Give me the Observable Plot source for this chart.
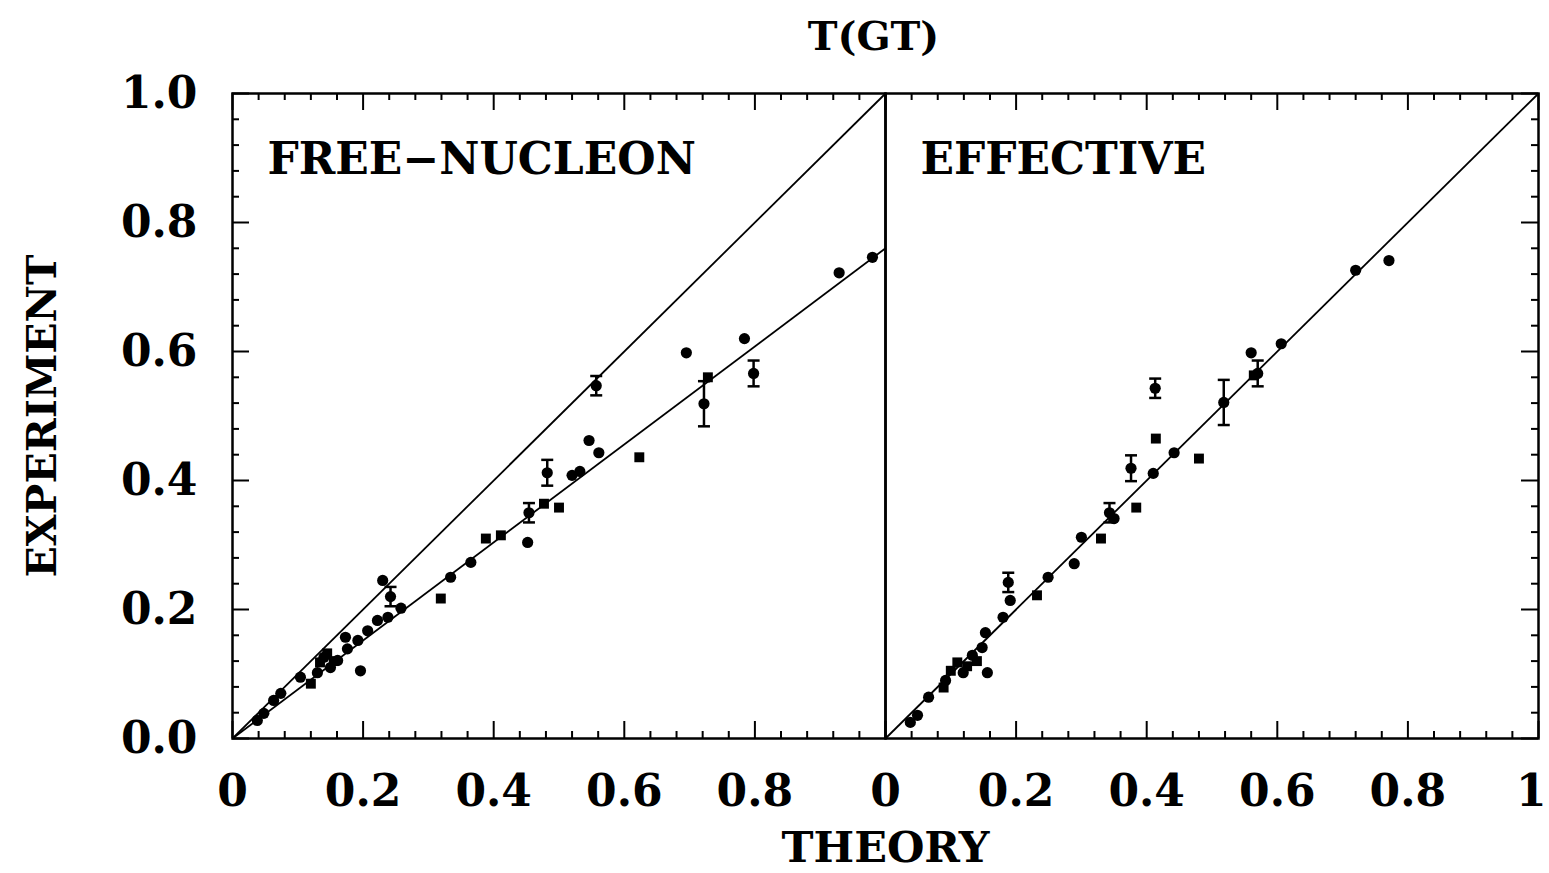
<!DOCTYPE html>
<html>
<head>
<meta charset="utf-8">
<script src="https://cdn.jsdelivr.net/npm/d3@7"></script>
<script src="https://cdn.jsdelivr.net/npm/@observablehq/plot@0.6"></script>
<style>
  html, body { margin: 0; padding: 0; background: #fff; }
  #chart svg { display: block; }
</style>
</head>
<body>
<div id="chart"></div>
<script>
// ---------- data ----------
const panels = ["FREE-NUCLEON", "EFFECTIVE"];
const panelLabels = ["FREE\u2212NUCLEON", "EFFECTIVE"];
const chartTitle = "T(GT)";
const xLabel = "THEORY";
const yLabel = "EXPERIMENT";

// FREE-NUCLEON panel
const freeTheory = [0.038, 0.048, 0.063, 0.074, 0.104, 0.120, 0.130, 0.134, 0.140, 0.145, 0.150, 0.155, 0.161, 0.173, 0.176, 0.192, 0.196, 0.207, 0.222, 0.230, 0.238, 0.242, 0.258, 0.319, 0.334, 0.365, 0.388, 0.411, 0.452, 0.454, 0.477, 0.482, 0.500, 0.520, 0.532, 0.546, 0.557, 0.561, 0.623, 0.695, 0.722, 0.728, 0.784, 0.798, 0.929, 0.980];
const freeExp    = [0.028, 0.039, 0.059, 0.070, 0.095, 0.085, 0.102, 0.118, 0.126, 0.132, 0.110, 0.120, 0.121, 0.157, 0.139, 0.152, 0.105, 0.167, 0.183, 0.245, 0.188, 0.220, 0.202, 0.217, 0.250, 0.273, 0.310, 0.315, 0.304, 0.350, 0.364, 0.412, 0.358, 0.408, 0.414, 0.462, 0.547, 0.443, 0.436, 0.598, 0.519, 0.560, 0.620, 0.566, 0.722, 0.746];
const freeErr    = [0, 0, 0, 0, 0, 0, 0, 0, 0, 0, 0, 0, 0, 0, 0, 0, 0, 0, 0, 0, 0, 0.015, 0, 0, 0, 0, 0, 0, 0, 0.015, 0, 0.02, 0, 0, 0, 0, 0.015, 0, 0, 0, 0.035, 0, 0, 0.02, 0, 0];
const freeShape  = ["c","c","c","c","c","s","c","s","c","s","c","s","c","c","c","c","c","c","c","c","c","c","c","s","c","c","s","s","c","c","s","c","s","c","c","c","c","c","s","c","c","s","c","c","c","c"];

// EFFECTIVE panel
const effTheory = [0.038, 0.049, 0.066, 0.089, 0.092, 0.100, 0.110, 0.119, 0.125, 0.133, 0.140, 0.148, 0.153, 0.156, 0.180, 0.188, 0.191, 0.232, 0.249, 0.289, 0.300, 0.330, 0.343, 0.350, 0.376, 0.384, 0.410, 0.413, 0.414, 0.442, 0.480, 0.518, 0.560, 0.564, 0.570, 0.606, 0.720, 0.771];
const effExp    = [0.025, 0.036, 0.064, 0.079, 0.090, 0.105, 0.118, 0.102, 0.112, 0.129, 0.120, 0.141, 0.164, 0.102, 0.188, 0.242, 0.214, 0.222, 0.250, 0.271, 0.312, 0.310, 0.350, 0.341, 0.419, 0.358, 0.411, 0.543, 0.465, 0.443, 0.434, 0.521, 0.598, 0.563, 0.566, 0.612, 0.726, 0.741];
const effErr    = [0, 0, 0, 0, 0, 0, 0, 0, 0, 0, 0, 0, 0, 0, 0, 0.015, 0, 0, 0, 0, 0, 0, 0.015, 0, 0.02, 0, 0, 0.015, 0, 0, 0, 0.035, 0, 0, 0.02, 0, 0, 0];
const effShape  = ["c","c","c","s","c","s","s","c","s","c","s","c","c","c","c","c","c","s","c","c","c","s","c","c","c","s","c","c","s","c","s","c","c","s","c","c","c","c"];

// reference lines: experiment = slope * theory
const fitPanels = ["FREE-NUCLEON", "FREE-NUCLEON", "EFFECTIVE"];
const fitSlopes = [1, 0.76, 1];

// axis ticks
const yTickValues = [0, 0.2, 0.4, 0.6, 0.8, 1.0];
const yTickLabels = ["0.0", "0.2", "0.4", "0.6", "0.8", "1.0"];
const xTickValuesFree = [0, 0.2, 0.4, 0.6, 0.8];
const xTickLabelsFree = ["0", "0.2", "0.4", "0.6", "0.8"];
const xTickValuesEff = [0, 0.2, 0.4, 0.6, 0.8, 1];
const xTickLabelsEff = ["0", "0.2", "0.4", "0.6", "0.8", "1"];

// ---------- build tables ----------
const points = [
  ...freeTheory.map((t, i) => ({panel: panels[0], theory: t, exp: freeExp[i], err: freeErr[i], shape: freeShape[i]})),
  ...effTheory.map((t, i) => ({panel: panels[1], theory: t, exp: effExp[i], err: effErr[i], shape: effShape[i]}))
];
const errPoints = points.filter(d => d.err > 0);
const fits = fitPanels.map((p, i) => ({panel: p, slope: fitSlopes[i]}));

const minorStep = 0.04;
const allTicks = d3.range(0, 1 + 1e-9, minorStep).map(v => +v.toFixed(2));
const isMajor = v => Math.abs(v * 5 - Math.round(v * 5)) < 1e-6;
const majorTicks = allTicks.filter(isMajor);
const minorTicks = allTicks.filter(v => !isMajor(v));
const tickRows = (vals) => panels.flatMap(p => vals.map(v => ({panel: p, v})));

const xTickRows = [
  ...xTickValuesFree.map((v, i) => ({panel: panels[0], v, label: xTickLabelsFree[i]})),
  ...xTickValuesEff.map((v, i) => ({panel: panels[1], v, label: xTickLabelsEff[i]}))
];
const xTickInner = xTickRows.filter(d => d.v < 1);
const xTickEnd = xTickRows.filter(d => d.v >= 1);
const yTickRows = yTickValues.map((v, i) => ({panel: panels[0], v, label: yTickLabels[i]}));

// ---------- layout ----------
const width = 1549, height = 873;
const mTop = 93, mBottom = 135, mLeft = 232, mRight = 11;
const frameH = height - mTop - mBottom;
const frameW = (width - mLeft - mRight) / 2;
const majorLen = 17, minorLen = 7;
const FONT = "'DejaVu Serif', 'Liberation Serif', serif";

const capSymbol = {
  draw(context, size) {
    const w = 6;
    context.moveTo(-w, 0);
    context.lineTo(w, 0);
  }
};

const chart = Plot.plot({
  width, height,
  marginTop: mTop, marginBottom: mBottom, marginLeft: mLeft, marginRight: mRight,
  style: {fontFamily: FONT, background: "#fff", color: "#000"},
  fx: {domain: panels, padding: 0, axis: null},
  x: {domain: [0, 1], axis: null},
  y: {domain: [0, 1], axis: null},
  symbol: {domain: ["c", "s"], range: ["circle", "square"]},
  marks: [
    // bottom ticks
    Plot.tickX(tickRows(majorTicks), {fx: "panel", x: "v", insetTop: frameH - majorLen, stroke: "#000", strokeWidth: 2}),
    Plot.tickX(tickRows(minorTicks), {fx: "panel", x: "v", insetTop: frameH - minorLen, stroke: "#000", strokeWidth: 2}),
    // top ticks
    Plot.tickX(tickRows(majorTicks), {fx: "panel", x: "v", insetBottom: frameH - majorLen, stroke: "#000", strokeWidth: 2}),
    Plot.tickX(tickRows(minorTicks), {fx: "panel", x: "v", insetBottom: frameH - minorLen, stroke: "#000", strokeWidth: 2}),
    // left ticks (free panel)
    Plot.tickY(majorTicks, {fx: () => panels[0], y: d => d, insetRight: frameW - majorLen, stroke: "#000", strokeWidth: 2}),
    Plot.tickY(minorTicks, {fx: () => panels[0], y: d => d, insetRight: frameW - minorLen, stroke: "#000", strokeWidth: 2}),
    // right ticks (effective panel)
    Plot.tickY(majorTicks, {fx: () => panels[1], y: d => d, insetLeft: frameW - majorLen, stroke: "#000", strokeWidth: 2}),
    Plot.tickY(minorTicks, {fx: () => panels[1], y: d => d, insetLeft: frameW - minorLen, stroke: "#000", strokeWidth: 2}),
    Plot.frame({stroke: "#000", strokeWidth: 2.5}),
    // reference lines
    Plot.link(fits, {fx: "panel", x1: () => 0, y1: () => 0, x2: () => 1, y2: "slope", stroke: "#000", strokeWidth: 1.8}),
    // error bars
    Plot.ruleX(errPoints, {fx: "panel", x: "theory", y1: d => d.exp - d.err, y2: d => d.exp + d.err, stroke: "#000", strokeWidth: 2.5}),
    Plot.dot(errPoints, {fx: "panel", x: "theory", y: d => d.exp - d.err, symbol: capSymbol, stroke: "#000", strokeWidth: 2.5, fill: "none"}),
    Plot.dot(errPoints, {fx: "panel", x: "theory", y: d => d.exp + d.err, symbol: capSymbol, stroke: "#000", strokeWidth: 2.5, fill: "none"}),
    // data points
    Plot.dot(points, {fx: "panel", x: "theory", y: "exp", symbol: "shape", r: 5.6, fill: "#000", stroke: "none"}),
    // panel labels
    Plot.text(panels, {fx: d => d, text: (d, i) => panelLabels[i], frameAnchor: "top-left", dx: 35, dy: 66, textAnchor: "start", lineAnchor: "middle", fontSize: 44, fontWeight: "bold", fill: "#000"}),
    // tick labels
    Plot.text(yTickRows, {fx: "panel", y: "v", text: "label", frameAnchor: "left", dx: -35, textAnchor: "end", lineAnchor: "middle", fontSize: 44, fontWeight: "bold", fill: "#000"}),
    Plot.text(xTickInner, {fx: "panel", x: "v", text: "label", frameAnchor: "bottom", dy: 53, textAnchor: "middle", lineAnchor: "middle", fontSize: 44, fontWeight: "bold", fill: "#000"}),
    Plot.text(xTickEnd, {fx: "panel", x: "v", text: "label", frameAnchor: "bottom", dy: 53, dx: 8, textAnchor: "end", lineAnchor: "middle", fontSize: 44, fontWeight: "bold", fill: "#000"}),
    // axis labels and title
    Plot.text([xLabel], {fx: () => panels[1], text: d => d, frameAnchor: "bottom-left", dy: 110, textAnchor: "middle", lineAnchor: "middle", fontSize: 43, fontWeight: "bold", fill: "#000"}),
    Plot.text([yLabel], {fx: () => panels[0], text: d => d, frameAnchor: "left", dx: -190, rotate: -90, textAnchor: "middle", lineAnchor: "middle", fontSize: 41, fontWeight: "bold", fill: "#000"}),
    Plot.text([chartTitle], {fx: () => panels[1], text: d => d, frameAnchor: "top-left", dx: -12, dy: -56, textAnchor: "middle", lineAnchor: "middle", fontSize: 40, fontWeight: "bold", fill: "#000"})
  ]
});
document.getElementById("chart").appendChild(chart);
</script>
</body>
</html>
